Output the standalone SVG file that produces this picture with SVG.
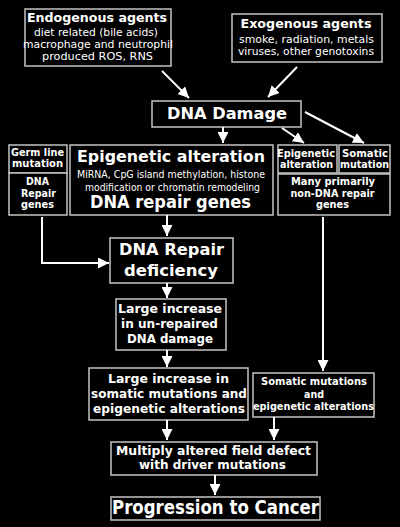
<svg xmlns="http://www.w3.org/2000/svg" width="400" height="527" viewBox="0 0 400 527">
<defs>
<style>
.bx{fill:#000;stroke:#c4c4c4;stroke-width:1.5}
text{fill:#fff;font-family:"DejaVu Sans","Liberation Sans",sans-serif;text-anchor:middle}
.b{font-weight:bold}
.s{font-size:10px}
.c{fill:none;stroke:#fff;stroke-width:2}
</style>
<marker id="ah" viewBox="0 0 10 10" refX="10" refY="5" markerWidth="11" markerHeight="11" markerUnits="userSpaceOnUse" orient="auto"><path d="M0,0 L10,5 L0,10 z" fill="#fff"/></marker>
</defs>
<rect width="400" height="527" fill="#000"/>
<g id="endogenous">
<rect class="bx" x="25" y="9" width="146" height="57"/>
<text class="b" x="97" y="22" font-size="13" textLength="140" lengthAdjust="spacingAndGlyphs">Endogenous agents</text>
<text x="96" y="36" font-size="11" textLength="124" lengthAdjust="spacingAndGlyphs">diet related (bile acids)</text>
<text x="98" y="48" font-size="11" textLength="150" lengthAdjust="spacingAndGlyphs">macrophage and neutrophil</text>
<text x="97.5" y="60" font-size="11" textLength="111" lengthAdjust="spacingAndGlyphs">produced ROS, RNS</text>
</g>
<g id="exogenous">
<rect class="bx" x="232" y="14" width="150" height="48"/>
<text class="b" x="306" y="28" font-size="13" textLength="131" lengthAdjust="spacingAndGlyphs">Exogenous agents</text>
<text x="306.5" y="43" font-size="11" textLength="135" lengthAdjust="spacingAndGlyphs">smoke, radiation, metals</text>
<text x="306" y="55" font-size="11" textLength="136" lengthAdjust="spacingAndGlyphs">viruses, other genotoxins</text>
</g>
<g id="dna-damage">
<rect class="bx" x="152" y="101" width="149" height="26"/>
<text class="b" x="227" y="119" font-size="16.5" textLength="120" lengthAdjust="spacingAndGlyphs">DNA Damage</text>
</g>
<g id="germ-line">
<rect class="bx" x="9" y="145" width="58" height="28"/>
<text class="b s" x="37.5" y="156" textLength="53" lengthAdjust="spacingAndGlyphs">Germ line</text>
<text class="b s" x="37.5" y="167" textLength="51" lengthAdjust="spacingAndGlyphs">mutation</text>
<rect class="bx" x="9" y="173" width="58" height="42"/>
<text class="b s" x="37.5" y="185" textLength="23" lengthAdjust="spacingAndGlyphs">DNA</text>
<text class="b s" x="38.5" y="196.5" textLength="35" lengthAdjust="spacingAndGlyphs">Repair</text>
<text class="b s" x="37.5" y="208" textLength="33" lengthAdjust="spacingAndGlyphs">genes</text>
</g>
<g id="epigenetic-big">
<rect class="bx" x="70" y="145" width="203" height="70"/>
<text class="b" x="171" y="162" font-size="16" textLength="188" lengthAdjust="spacingAndGlyphs">Epigenetic alteration</text>
<text x="171" y="178" font-size="10" textLength="188" lengthAdjust="spacingAndGlyphs">MiRNA, CpG island methylation, histone</text>
<text x="172.5" y="190.5" font-size="10" textLength="175" lengthAdjust="spacingAndGlyphs">modification or chromatin remodeling</text>
<text class="b" x="170.5" y="208" font-size="17" textLength="161" lengthAdjust="spacingAndGlyphs">DNA repair genes</text>
</g>
<g id="epigenetic-small">
<rect class="bx" x="278" y="145" width="59" height="28"/>
<text class="b s" x="306" y="157" textLength="58" lengthAdjust="spacingAndGlyphs">Epigenetic</text>
<text class="b s" x="306.5" y="168" textLength="53" lengthAdjust="spacingAndGlyphs">alteration</text>
</g>
<g id="somatic-mutation">
<rect class="bx" x="339" y="145" width="51" height="28"/>
<text class="b s" x="365" y="157" textLength="46" lengthAdjust="spacingAndGlyphs">Somatic</text>
<text class="b s" x="364.5" y="168" textLength="49" lengthAdjust="spacingAndGlyphs">mutation</text>
</g>
<g id="non-dna-repair">
<rect class="bx" x="278" y="174" width="112" height="41"/>
<text class="b s" x="333" y="185" textLength="84" lengthAdjust="spacingAndGlyphs">Many primarily</text>
<text class="b s" x="332.5" y="197" textLength="84" lengthAdjust="spacingAndGlyphs">non-DNA repair</text>
<text class="b s" x="332.5" y="208" textLength="33" lengthAdjust="spacingAndGlyphs">genes</text>
</g>
<g id="repair-deficiency">
<rect class="bx" x="110" y="238" width="123" height="45"/>
<text class="b" x="171.5" y="255" font-size="16.5" textLength="105" lengthAdjust="spacingAndGlyphs">DNA Repair</text>
<text class="b" x="171" y="276" font-size="16.5" textLength="94" lengthAdjust="spacingAndGlyphs">deficiency</text>
</g>
<g id="unrepaired">
<rect class="bx" x="116" y="299" width="110" height="51"/>
<text class="b" x="170" y="313" font-size="12.5" textLength="104" lengthAdjust="spacingAndGlyphs">Large increase</text>
<text class="b" x="169.5" y="328" font-size="12.5" textLength="97" lengthAdjust="spacingAndGlyphs">in un-repaired</text>
<text class="b" x="170" y="343" font-size="12.5" textLength="86" lengthAdjust="spacingAndGlyphs">DNA damage</text>
</g>
<g id="somatic-increase">
<rect class="bx" x="89" y="368" width="159" height="52"/>
<text class="b" x="168.5" y="383" font-size="13" textLength="121" lengthAdjust="spacingAndGlyphs">Large increase in</text>
<text class="b" x="169" y="398" font-size="13" textLength="156" lengthAdjust="spacingAndGlyphs">somatic mutations and</text>
<text class="b" x="169" y="413" font-size="13" textLength="152" lengthAdjust="spacingAndGlyphs">epigenetic alterations</text>
</g>
<g id="somatic-right">
<rect class="bx" x="253" y="373" width="121" height="44"/>
<text class="b s" x="314" y="385" textLength="106" lengthAdjust="spacingAndGlyphs">Somatic mutations</text>
<text class="b s" x="314" y="398" textLength="20" lengthAdjust="spacingAndGlyphs">and</text>
<text class="b s" x="313.5" y="410" textLength="121" lengthAdjust="spacingAndGlyphs">epigenetic alterations</text>
</g>
<g id="field-defect">
<rect class="bx" x="111" y="442" width="206" height="33"/>
<text class="b" x="213.5" y="455" font-size="13" textLength="195" lengthAdjust="spacingAndGlyphs">Multiply altered field defect</text>
<text class="b" x="212.5" y="469" font-size="13" textLength="147" lengthAdjust="spacingAndGlyphs">with driver mutations</text>
</g>
<g id="cancer">
<rect class="bx" x="111" y="497" width="209" height="23"/>
<text class="b" x="215.5" y="514" font-size="19" textLength="207" lengthAdjust="spacingAndGlyphs">Progression to Cancer</text>
</g>
<g id="connectors">
<path class="c" marker-end="url(#ah)" d="M162,71 L189,98"/>
<path class="c" marker-end="url(#ah)" d="M297,67 L268,97"/>
<path class="c" marker-end="url(#ah)" d="M223,127 L223,143"/>
<path class="c" marker-end="url(#ah)" d="M282,128 L304,143"/>
<path class="c" marker-end="url(#ah)" d="M305,112 L364,143"/>
<path class="c" marker-end="url(#ah)" d="M42,217 L42,263 L109,263"/>
<path class="c" marker-end="url(#ah)" d="M167,215 L167,236"/>
<path class="c" marker-end="url(#ah)" d="M323,217 L323,371"/>
<path class="c" marker-end="url(#ah)" d="M167,283 L167,298"/>
<path class="c" marker-end="url(#ah)" d="M167,350 L167,367"/>
<path class="c" marker-end="url(#ah)" d="M167,420 L167,440"/>
<path class="c" marker-end="url(#ah)" d="M274,417 L274,440"/>
<path class="c" marker-end="url(#ah)" d="M215,475 L215,495"/>
</g>
</svg>
